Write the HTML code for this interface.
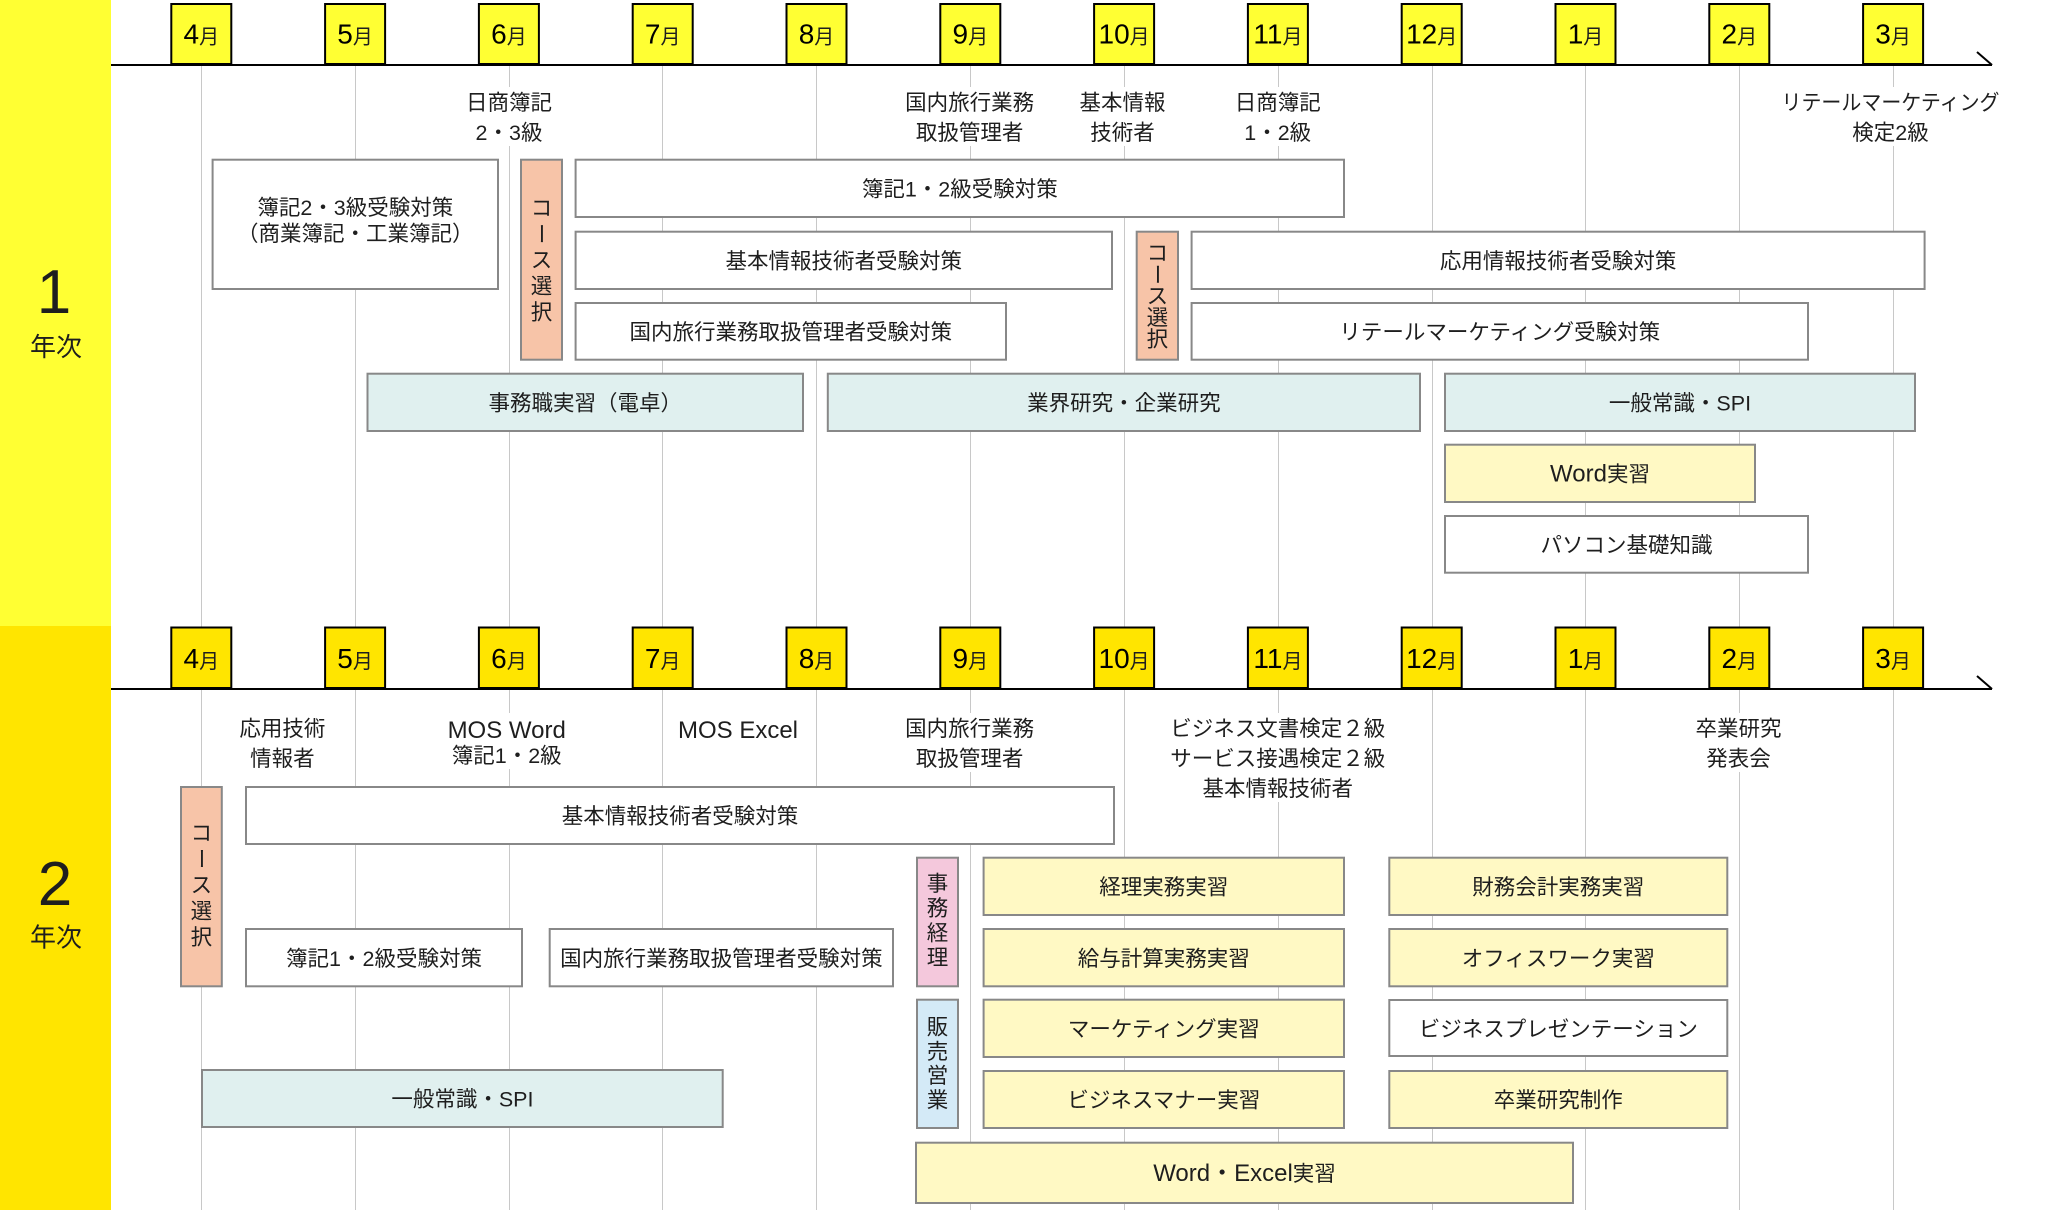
<!DOCTYPE html>
<html>
<head>
<meta charset="utf-8">
<style>
html,body{margin:0;padding:0;width:2072px;height:1210px;overflow:hidden;background:#fff}
svg{display:block}
text{font-family:"Liberation Sans","Noto Sans CJK JP",sans-serif;fill:#1e1e1e}
.b{font-size:21.5px}
.l{font-size:21.5px}
.m{font-size:28px;fill:#000}
</style>
</head>
<body>
<svg width="2072" height="1210" viewBox="0 0 2072 1210" xmlns="http://www.w3.org/2000/svg">
<rect x="0" y="0" width="2072" height="1210" fill="#fff"/>
<!-- year bands -->
<rect x="0" y="0" width="111" height="626" fill="#FFFF33"/>
<rect x="0" y="626" width="111" height="584" fill="#FFE500"/>

<!-- grid lines -->
<g stroke="#c8c8c8" stroke-width="1">
<line x1="201.5" y1="66" x2="201.5" y2="1210"/>
<line x1="355.5" y1="66" x2="355.5" y2="1210"/>
<line x1="509.5" y1="66" x2="509.5" y2="1210"/>
<line x1="662.5" y1="66" x2="662.5" y2="1210"/>
<line x1="816.5" y1="66" x2="816.5" y2="1210"/>
<line x1="970.5" y1="66" x2="970.5" y2="1210"/>
<line x1="1124.5" y1="66" x2="1124.5" y2="1210"/>
<line x1="1278.5" y1="66" x2="1278.5" y2="1210"/>
<line x1="1432.5" y1="66" x2="1432.5" y2="1210"/>
<line x1="1585.5" y1="66" x2="1585.5" y2="1210"/>
<line x1="1739.5" y1="66" x2="1739.5" y2="1210"/>
<line x1="1893.5" y1="66" x2="1893.5" y2="1210"/>
</g>

<!-- timelines -->
<rect x="111" y="64" width="1881" height="2" fill="#000"/>
<line x1="1977" y1="52" x2="1992" y2="65" stroke="#000" stroke-width="2"/>
<rect x="111" y="688" width="1881" height="2" fill="#000"/>
<line x1="1977" y1="676" x2="1992" y2="689" stroke="#000" stroke-width="2"/>

<!-- month boxes year 1 -->
<g fill="#FFFF33" stroke="#000" stroke-width="2">
<rect x="171.3" y="4" width="60" height="60"/>
<rect x="325.1" y="4" width="60" height="60"/>
<rect x="478.9" y="4" width="60" height="60"/>
<rect x="632.7" y="4" width="60" height="60"/>
<rect x="786.5" y="4" width="60" height="60"/>
<rect x="940.3" y="4" width="60" height="60"/>
<rect x="1094.1" y="4" width="60" height="60"/>
<rect x="1247.9" y="4" width="60" height="60"/>
<rect x="1401.7" y="4" width="60" height="60"/>
<rect x="1555.5" y="4" width="60" height="60"/>
<rect x="1709.3" y="4" width="60" height="60"/>
<rect x="1863.1" y="4" width="60" height="60"/>
</g>
<g text-anchor="middle">
<text x="201.3" y="43.5"><tspan class="m">4</tspan><tspan font-size="20">月</tspan></text>
<text x="355.1" y="43.5"><tspan class="m">5</tspan><tspan font-size="20">月</tspan></text>
<text x="508.9" y="43.5"><tspan class="m">6</tspan><tspan font-size="20">月</tspan></text>
<text x="662.7" y="43.5"><tspan class="m">7</tspan><tspan font-size="20">月</tspan></text>
<text x="816.5" y="43.5"><tspan class="m">8</tspan><tspan font-size="20">月</tspan></text>
<text x="970.3" y="43.5"><tspan class="m">9</tspan><tspan font-size="20">月</tspan></text>
<text x="1124.1" y="43.5"><tspan class="m">10</tspan><tspan font-size="20">月</tspan></text>
<text x="1277.9" y="43.5"><tspan class="m">11</tspan><tspan font-size="20">月</tspan></text>
<text x="1431.7" y="43.5"><tspan class="m">12</tspan><tspan font-size="20">月</tspan></text>
<text x="1585.5" y="43.5"><tspan class="m">1</tspan><tspan font-size="20">月</tspan></text>
<text x="1739.3" y="43.5"><tspan class="m">2</tspan><tspan font-size="20">月</tspan></text>
<text x="1893.1" y="43.5"><tspan class="m">3</tspan><tspan font-size="20">月</tspan></text>
</g>

<!-- month boxes year 2 -->
<g fill="#FFE500" stroke="#000" stroke-width="2">
<rect x="171.3" y="627.5" width="60" height="60.5"/>
<rect x="325.1" y="627.5" width="60" height="60.5"/>
<rect x="478.9" y="627.5" width="60" height="60.5"/>
<rect x="632.7" y="627.5" width="60" height="60.5"/>
<rect x="786.5" y="627.5" width="60" height="60.5"/>
<rect x="940.3" y="627.5" width="60" height="60.5"/>
<rect x="1094.1" y="627.5" width="60" height="60.5"/>
<rect x="1247.9" y="627.5" width="60" height="60.5"/>
<rect x="1401.7" y="627.5" width="60" height="60.5"/>
<rect x="1555.5" y="627.5" width="60" height="60.5"/>
<rect x="1709.3" y="627.5" width="60" height="60.5"/>
<rect x="1863.1" y="627.5" width="60" height="60.5"/>
</g>
<g text-anchor="middle">
<text x="201.3" y="668"><tspan class="m">4</tspan><tspan font-size="20">月</tspan></text>
<text x="355.1" y="668"><tspan class="m">5</tspan><tspan font-size="20">月</tspan></text>
<text x="508.9" y="668"><tspan class="m">6</tspan><tspan font-size="20">月</tspan></text>
<text x="662.7" y="668"><tspan class="m">7</tspan><tspan font-size="20">月</tspan></text>
<text x="816.5" y="668"><tspan class="m">8</tspan><tspan font-size="20">月</tspan></text>
<text x="970.3" y="668"><tspan class="m">9</tspan><tspan font-size="20">月</tspan></text>
<text x="1124.1" y="668"><tspan class="m">10</tspan><tspan font-size="20">月</tspan></text>
<text x="1277.9" y="668"><tspan class="m">11</tspan><tspan font-size="20">月</tspan></text>
<text x="1431.7" y="668"><tspan class="m">12</tspan><tspan font-size="20">月</tspan></text>
<text x="1585.5" y="668"><tspan class="m">1</tspan><tspan font-size="20">月</tspan></text>
<text x="1739.3" y="668"><tspan class="m">2</tspan><tspan font-size="20">月</tspan></text>
<text x="1893.1" y="668"><tspan class="m">3</tspan><tspan font-size="20">月</tspan></text>
</g>

<!-- label backgrounds -->
<g fill="#fff">
<rect x="463" y="87" width="92" height="59"/>
<rect x="902" y="87" width="136" height="59"/>
<rect x="1077" y="87" width="92" height="59"/>
<rect x="1232" y="87" width="92" height="59"/>
<rect x="1770" y="87" width="242" height="59"/>
<rect x="236" y="713" width="92" height="59"/>
<rect x="444" y="713" width="126" height="56"/>
<rect x="676" y="713" width="124" height="30"/>
<rect x="902" y="713" width="136" height="59"/>
<rect x="1168" y="713" width="220" height="89"/>
<rect x="1693" y="713" width="92" height="59"/>
</g>

<!-- labels year 1 -->
<g class="l" text-anchor="middle">
<text class="l" x="509" y="110">日商簿記</text>
<text class="l" x="509" y="140">2・3級</text>
<text class="l" x="969.6" y="110">国内旅行業務</text>
<text class="l" x="969.6" y="140">取扱管理者</text>
<text class="l" x="1122.5" y="110">基本情報</text>
<text class="l" x="1122.5" y="140">技術者</text>
<text class="l" x="1277.7" y="110">日商簿記</text>
<text class="l" x="1277.7" y="140">1・2級</text>
<text class="l" x="1890.5" y="110" textLength="218" lengthAdjust="spacingAndGlyphs">リテールマーケティング</text>
<text class="l" x="1890.5" y="140">検定2級</text>
</g>

<!-- labels year 2 -->
<g text-anchor="middle">
<text class="l" x="282.4" y="736">応用技術</text>
<text class="l" x="282.4" y="766">情報者</text>
<text x="506.7" y="738" font-size="24">MOS Word</text>
<text class="l" x="506.7" y="763">簿記1・2級</text>
<text x="738" y="738" font-size="24">MOS Excel</text>
<text class="l" x="969.6" y="736">国内旅行業務</text>
<text class="l" x="969.6" y="766">取扱管理者</text>
<text class="l" x="1277.7" y="736">ビジネス文書検定２級</text>
<text class="l" x="1277.7" y="766">サービス接遇検定２級</text>
<text class="l" x="1277.7" y="796">基本情報技術者</text>
<text class="l" x="1738.5" y="736">卒業研究</text>
<text class="l" x="1738.5" y="766">発表会</text>
</g>

<!-- boxes year 1 -->
<g stroke="#888" stroke-width="2">
<rect x="212.6" y="159.7" width="285.4" height="129.3" fill="#fff"/>
<rect x="521" y="159.7" width="41" height="200" fill="#F7C4A8"/>
<rect x="575.6" y="159.7" width="768.4" height="57.3" fill="#fff"/>
<rect x="575.6" y="231.7" width="536.4" height="57.3" fill="#fff"/>
<rect x="575.6" y="303" width="430.4" height="56.7" fill="#fff"/>
<rect x="367.5" y="373.7" width="435.5" height="57.3" fill="#E0F0EF"/>
<rect x="827.8" y="373.7" width="592.2" height="57.3" fill="#E0F0EF"/>
<rect x="1136.7" y="231.7" width="41.3" height="128" fill="#F7C4A8"/>
<rect x="1191.6" y="231.7" width="733" height="57.3" fill="#fff"/>
<rect x="1191.6" y="303" width="616.4" height="56.7" fill="#fff"/>
<rect x="1445" y="373.7" width="470" height="57.3" fill="#E0F0EF"/>
<rect x="1445" y="444.7" width="310" height="57.3" fill="#FFF9C4"/>
<rect x="1445" y="516" width="363" height="56.7" fill="#fff"/>
</g>
<g class="b" text-anchor="middle">
<text class="b" x="355.3" y="215">簿記2・3級受験対策</text>
<text class="b" x="355.3" y="241">（商業簿記・工業簿記）</text>
<text class="b" x="959.8" y="196.6">簿記1・2級受験対策</text>
<text class="b" x="843.8" y="268.6">基本情報技術者受験対策</text>
<text class="b" x="790.8" y="339.6">国内旅行業務取扱管理者受験対策</text>
<text class="b" x="585.3" y="410.6">事務職実習（電卓）</text>
<text class="b" x="1123.9" y="410.6">業界研究・企業研究</text>
<text class="b" x="1558.1" y="268.6">応用情報技術者受験対策</text>
<text class="b" x="1499.8" y="339.6">リテールマーケティング受験対策</text>
<text class="b" x="1680" y="410.6">一般常識・SPI</text>
<text class="b" x="1600" y="481.6"><tspan font-size="24">Word</tspan>実習</text>
<text class="b" x="1626.5" y="552.6">パソコン基礎知識</text>
<!-- vertical コース選択 #1 -->
<text class="b" x="541.5" y="215.7">コ</text>
<text class="b" x="541.5" y="241.7" transform="rotate(90 541.5 233.7)">ー</text>
<text class="b" x="541.5" y="267.7">ス</text>
<text class="b" x="541.5" y="293.7">選</text>
<text class="b" x="541.5" y="319.7">択</text>
<!-- vertical コース選択 #2 -->
<text class="b" x="1157.4" y="260.7">コ</text>
<text class="b" x="1157.4" y="282.2" transform="rotate(90 1157.4 274.2)">ー</text>
<text class="b" x="1157.4" y="303.7">ス</text>
<text class="b" x="1157.4" y="325.2">選</text>
<text class="b" x="1157.4" y="346.7">択</text>
</g>

<!-- boxes year 2 -->
<g stroke="#888" stroke-width="2">
<rect x="181" y="787" width="40.8" height="199.3" fill="#F7C4A8"/>
<rect x="246" y="787" width="868" height="57" fill="#fff"/>
<rect x="246" y="929" width="276" height="57.3" fill="#fff"/>
<rect x="549.7" y="929" width="343.3" height="57.3" fill="#fff"/>
<rect x="202" y="1070" width="520.7" height="57" fill="#E0F0EF"/>
<rect x="917" y="857.7" width="41" height="128.6" fill="#F4C8DC"/>
<rect x="917" y="999.7" width="41" height="128.3" fill="#D4EAF7"/>
<rect x="983.6" y="857.7" width="360.4" height="57.3" fill="#FFF9C4"/>
<rect x="983.6" y="929" width="360.4" height="57.3" fill="#FFF9C4"/>
<rect x="983.6" y="999.7" width="360.4" height="57.3" fill="#FFF9C4"/>
<rect x="983.6" y="1071" width="360.4" height="57" fill="#FFF9C4"/>
<rect x="916" y="1142.7" width="657" height="60.3" fill="#FFF9C4"/>
<rect x="1389.3" y="857.7" width="338" height="57.3" fill="#FFF9C4"/>
<rect x="1389.3" y="929" width="338" height="57.3" fill="#FFF9C4"/>
<rect x="1389.3" y="1000" width="338" height="56" fill="#fff"/>
<rect x="1389.3" y="1071" width="338" height="57" fill="#FFF9C4"/>
</g>
<g class="b" text-anchor="middle">
<text class="b" x="680" y="823.7">基本情報技術者受験対策</text>
<text class="b" x="384" y="965.9">簿記1・2級受験対策</text>
<text class="b" x="721.4" y="965.9">国内旅行業務取扱管理者受験対策</text>
<text class="b" x="462.4" y="1106.7">一般常識・SPI</text>
<text class="b" x="1163.8" y="894.6">経理実務実習</text>
<text class="b" x="1163.8" y="965.9">給与計算実務実習</text>
<text class="b" x="1163.8" y="1036.6">マーケティング実習</text>
<text class="b" x="1163.8" y="1107.7">ビジネスマナー実習</text>
<text class="b" x="1244.5" y="1181"><tspan font-size="24">Word・Excel</tspan>実習</text>
<text class="b" x="1558.3" y="894.6">財務会計実務実習</text>
<text class="b" x="1558.3" y="965.9">オフィスワーク実習</text>
<text class="b" x="1558.3" y="1036.7">ビジネスプレゼンテーション</text>
<text class="b" x="1558.3" y="1107.7">卒業研究制作</text>
<!-- vertical コース選択 year2 -->
<text class="b" x="201.4" y="840.5">コ</text>
<text class="b" x="201.4" y="866.5" transform="rotate(90 201.4 858.5)">ー</text>
<text class="b" x="201.4" y="892.5">ス</text>
<text class="b" x="201.4" y="918.5">選</text>
<text class="b" x="201.4" y="944.5">択</text>
<!-- 事務経理 -->
<text class="b" x="937.5" y="891">事</text>
<text class="b" x="937.5" y="915.7">務</text>
<text class="b" x="937.5" y="940.4">経</text>
<text class="b" x="937.5" y="965.1">理</text>
<!-- 販売営業 -->
<text class="b" x="937.5" y="1034.7">販</text>
<text class="b" x="937.5" y="1058.9">売</text>
<text class="b" x="937.5" y="1083.1">営</text>
<text class="b" x="937.5" y="1107.3">業</text>
</g>

<!-- year labels -->
<g text-anchor="middle">
<text x="54" y="313" font-size="62" fill="#000">1</text>
<text x="56" y="356" font-size="26" fill="#000">年次</text>
<text x="55" y="905" font-size="62" fill="#000">2</text>
<text x="56" y="946.7" font-size="26" fill="#000">年次</text>
</g>
</svg>
</body>
</html>
